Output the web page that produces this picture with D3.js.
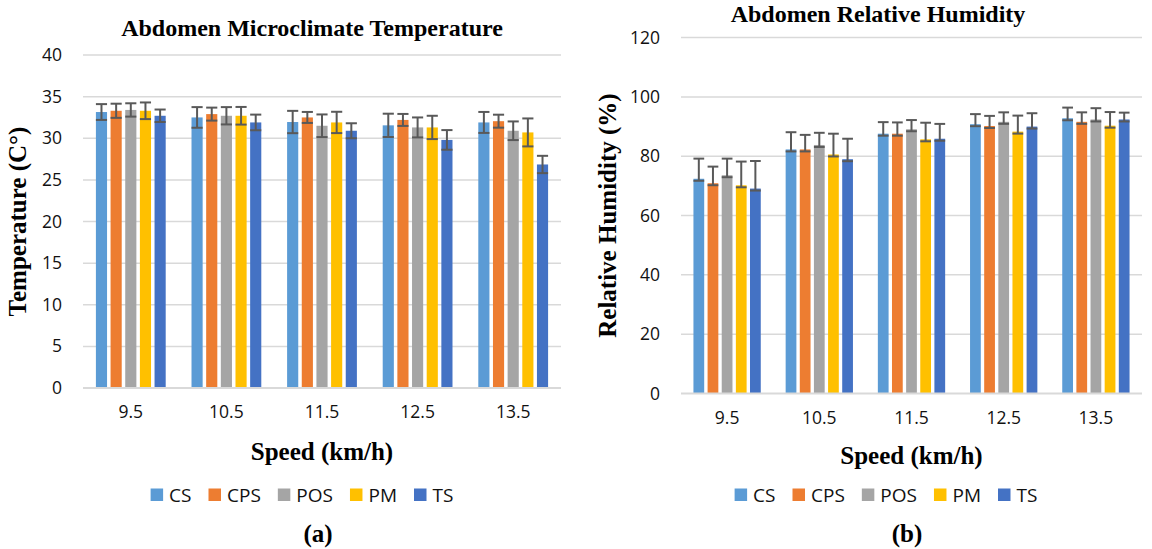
<!DOCTYPE html>
<html>
<head>
<meta charset="utf-8">
<script src="https://cdn.jsdelivr.net/npm/d3@7"></script>
<style>
  body { margin: 0; background: #fff; }
</style>
</head>
<body>
<div id="chart"></div>
<script>
// categories and series
var speeds = ["9.5", "10.5", "11.5", "12.5", "13.5"];
var seriesNames = ["CS", "CPS", "POS", "PM", "TS"];
var seriesColors = ["#5b9bd5", "#ed7d31", "#a5a5a5", "#ffc000", "#4472c4"];

// (a) abdomen microclimate temperature, mean and +/- error
var tempCS  = [33.15, 32.5, 31.95, 31.55, 31.9];
var tempCPS = [33.3, 32.9, 32.5, 32.2, 32.05];
var tempPOS = [33.4, 32.7, 31.5, 31.3, 30.9];
var tempPM  = [33.3, 32.7, 31.9, 31.3, 30.7];
var tempTS  = [32.7, 31.9, 30.9, 29.8, 26.85];
var tempErrCS  = [0.95, 1.24, 1.34, 1.4, 1.26];
var tempErrCPS = [0.85, 0.78, 0.66, 0.72, 0.78];
var tempErrPOS = [0.8, 1.04, 1.36, 1.2, 1.12];
var tempErrPM  = [1.0, 1.06, 1.28, 1.4, 1.68];
var tempErrTS  = [0.75, 0.94, 0.9, 1.18, 1.04];
var tempTicks = [0, 5, 10, 15, 20, 25, 30, 35, 40];

// (b) abdomen relative humidity, mean and + error
var rhCS  = [72.4, 82.3, 87.6, 90.8, 92.8];
var rhCPS = [70.9, 82.3, 87.6, 90.2, 91.6];
var rhPOS = [73.6, 83.8, 89.1, 91.6, 92.4];
var rhPM  = [70.2, 80.6, 85.7, 88.3, 90.3];
var rhTS  = [69.1, 79.0, 85.9, 90.0, 92.4];
var rhErrCS  = [6.8, 5.8, 3.9, 3.4, 3.6];
var rhErrCPS = [5.6, 4.9, 3.8, 3.4, 3.2];
var rhErrPOS = [5.6, 4.1, 3.1, 3.2, 3.8];
var rhErrPM  = [8.0, 7.0, 5.6, 5.4, 4.6];
var rhErrTS  = [9.3, 6.9, 5.0, 4.5, 2.3];
var rhTicks = [0, 20, 40, 60, 80, 100, 120];

var serifFont = "'Liberation Serif', 'Times New Roman', serif";
var sansFont = "'Open Sans', Calibri, sans-serif";

var svg = d3.select("#chart")
    .append("svg")
    .attr("width", 1152)
    .attr("height", 549);

function drawChart(cfg) {
    var g = svg.append("g");

    var x0 = d3.scaleBand()
        .domain(speeds)
        .range([cfg.left, cfg.right])
        .paddingInner(0.27)
        .paddingOuter(0.135);
    var x1 = d3.scaleBand()
        .domain(seriesNames)
        .range([0, x0.bandwidth()])
        .paddingInner(0.24);
    var y = d3.scaleLinear()
        .domain([0, d3.max(cfg.ticks)])
        .range([cfg.bottom, cfg.top]);

    // gridlines
    g.selectAll(".grid")
        .data(cfg.ticks.filter(function (t) { return t > 0; }))
        .enter().append("line")
        .attr("x1", cfg.left).attr("x2", cfg.right)
        .attr("y1", function (d) { return y(d); })
        .attr("y2", function (d) { return y(d); })
        .attr("stroke", "#d9d9d9")
        .attr("stroke-width", 1.5);

    // y axis labels
    var yAxis = g.append("g")
        .attr("transform", "translate(" + cfg.left + ",0)")
        .call(d3.axisLeft(y).tickValues(cfg.ticks).tickSize(0).tickPadding(cfg.yPad));
    yAxis.select(".domain").remove();
    yAxis.selectAll("text")
        .attr("font-family", sansFont)
        .attr("font-size", 17.5)
        .attr("fill", "#111");

    // bars
    var rows = [];
    speeds.forEach(function (s, i) {
        seriesNames.forEach(function (n, j) {
            rows.push({ speed: s, name: n, color: seriesColors[j],
                value: cfg.values[j][i], err: cfg.errors[j][i] });
        });
    });

    var groups = g.selectAll(".bar")
        .data(rows)
        .enter().append("g")
        .attr("transform", function (d) { return "translate(" + (x0(d.speed) + x1(d.name)) + ",0)"; });

    groups.append("rect")
        .attr("x", 0)
        .attr("width", x1.bandwidth())
        .attr("y", function (d) { return y(d.value); })
        .attr("height", function (d) { return y(0) - y(d.value); })
        .attr("fill", function (d) { return d.color; });

    // x axis line
    g.append("line")
        .attr("x1", cfg.left).attr("x2", cfg.right)
        .attr("y1", y(0)).attr("y2", y(0))
        .attr("stroke", "#d9d9d9")
        .attr("stroke-width", 2);

    // error bars
    var w = x1.bandwidth();
    groups.each(function (d) {
        var eg = d3.select(this);
        var yTop = y(d.value + d.err);
        var yLow = cfg.symmetric ? y(d.value - d.err) : y(d.value) + 2;
        eg.append("line")
            .attr("x1", w / 2).attr("x2", w / 2)
            .attr("y1", yTop).attr("y2", yLow)
            .attr("stroke", "#595959").attr("stroke-width", 2);
        [yTop, yLow].forEach(function (yy) {
            eg.append("line")
                .attr("x1", 0).attr("x2", w)
                .attr("y1", yy).attr("y2", yy)
                .attr("stroke", "#595959").attr("stroke-width", 2);
        });
    });

    // x labels
    var xAxis = g.append("g")
        .attr("transform", "translate(0," + y(0) + ")")
        .call(d3.axisBottom(x0).tickSize(0));
    xAxis.select(".domain").remove();
    xAxis.selectAll("text")
        .attr("y", 24)
        .attr("dy", "0.36em")
        .attr("font-family", sansFont)
        .attr("font-size", 17.5)
        .attr("fill", "#111");

    var midX = (cfg.left + cfg.right) / 2;

    // titles
    g.append("text")
        .attr("x", cfg.titleX).attr("y", cfg.titleY)
        .attr("dy", "0.33em")
        .attr("text-anchor", "middle")
        .attr("font-family", serifFont).attr("font-weight", "bold")
        .attr("font-size", 24)
        .text(cfg.title);

    g.append("text")
        .attr("transform", "translate(" + cfg.yTitleX + "," + ((cfg.top + cfg.bottom) / 2) + ") rotate(-90)")
        .attr("dy", "0.33em")
        .attr("text-anchor", "middle")
        .attr("font-family", serifFont).attr("font-weight", "bold")
        .attr("font-size", 25)
        .text(cfg.yTitle);

    g.append("text")
        .attr("x", midX).attr("y", cfg.xTitleY)
        .attr("dy", "0.33em")
        .attr("text-anchor", "middle")
        .attr("font-family", serifFont).attr("font-weight", "bold")
        .attr("font-size", 25)
        .text("Speed (km/h)");

    g.append("text")
        .attr("x", cfg.letterX).attr("y", 534)
        .attr("dy", "0.33em")
        .attr("text-anchor", "middle")
        .attr("font-family", serifFont).attr("font-weight", "bold")
        .attr("font-size", 25)
        .text(cfg.letter);

    // legend
    var leg = g.append("g").attr("transform", "translate(0,495)");
    var items = leg.selectAll(".item")
        .data(seriesNames)
        .enter().append("g");
    items.append("rect")
        .attr("x", 0).attr("y", -6.5)
        .attr("width", 12.5).attr("height", 12.5)
        .attr("fill", function (d, i) { return seriesColors[i]; });
    items.append("text")
        .attr("x", 18.5)
        .attr("dy", "0.36em")
        .attr("font-family", sansFont)
        .attr("font-size", 19)
        .attr("fill", "#111")
        .text(function (d) { return d; });
    var pos = 0, offsets = [];
    items.each(function () {
        offsets.push(pos);
        pos += 18.5 + d3.select(this).select("text").node().getComputedTextLength() + 17;
    });
    var total = pos - 17;
    var start = cfg.legendX - total / 2;
    items.attr("transform", function (d, i) { return "translate(" + (start + offsets[i]) + ",0)"; });
}

drawChart({
    left: 83, right: 561, top: 55, bottom: 388,
    ticks: tempTicks,
    values: [tempCS, tempCPS, tempPOS, tempPM, tempTS],
    errors: [tempErrCS, tempErrCPS, tempErrPOS, tempErrPM, tempErrTS],
    symmetric: true,
    yPad: 21,
    title: "Abdomen Microclimate Temperature", titleX: 312, titleY: 28,
    yTitle: "Temperature (C\u00b0)", yTitleX: 18,
    xTitleY: 452, letter: "(a)", letterX: 318,
    legendX: 302
});

drawChart({
    left: 681, right: 1142, top: 37.6, bottom: 393.5,
    ticks: rhTicks,
    values: [rhCS, rhCPS, rhPOS, rhPM, rhTS],
    errors: [rhErrCS, rhErrCPS, rhErrPOS, rhErrPM, rhErrTS],
    symmetric: false,
    yPad: 21,
    title: "Abdomen Relative Humidity", titleX: 878, titleY: 14,
    yTitle: "Relative Humidity (%)", yTitleX: 608,
    xTitleY: 456, letter: "(b)", letterX: 907,
    legendX: 886
});
</script>
</body>
</html>
